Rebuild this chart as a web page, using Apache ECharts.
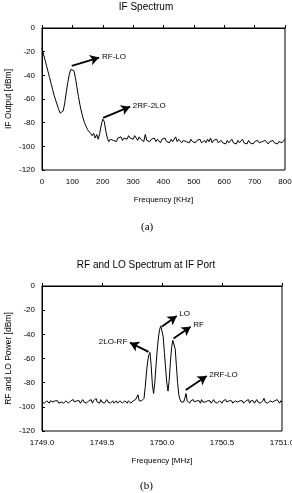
<!DOCTYPE html>
<html>
<head>
<meta charset="utf-8">
<script src="https://cdn.jsdelivr.net/npm/echarts@6/dist/echarts.min.js"></script>
<style>
  html, body { margin: 0; padding: 0; background: #fff; }
  #main { width: 292px; height: 493px; }
</style>
</head>
<body>
<div id="main"></div>
<script>
// (a) IF spectrum, one sample every 5 kHz from 0 to 800 kHz
var ifStart = 0, ifStep = 5;
var ifPower = [
  -17,-22,-27,-32,-37,-42,-47,-52,-57,-61,
  -65,-69,-72,-73,-70,-63,-54,-46,-39,-35,
  -34,-36,-42,-50,-58,-65,-71,-76,-80,-83,
  -86,-87,-89,-91,-89,-93,-90,-94,-89,-82,
  -77,-79,-87,-93,-96,-94,-93,-95,-94,-96,
  -93,-94,-92,-95,-93,-92,-94,-91,-93,-92,
  -94,-91,-93,-95,-92,-94,-93,-96,-90,-95,
  -94,-96,-94,-95,-93,-96,-94,-95,-97,-94,
  -95,-93,-96,-95,-97,-94,-96,-95,-92,-96,
  -94,-95,-97,-95,-94,-96,-95,-97,-94,-96,
  -95,-97,-95,-96,-94,-97,-96,-95,-97,-94,
  -96,-93,-97,-95,-96,-94,-97,-96,-95,-97,
  -96,-98,-95,-97,-96,-94,-97,-96,-98,-95,
  -97,-96,-94,-97,-96,-98,-95,-97,-96,-98,
  -96,-97,-95,-97,-98,-96,-97,-95,-96,-98,
  -96,-97,-95,-97,-96,-98,-96,-95,-97,-96,
  -94
];
// (b) RF and LO at IF port, one sample every 0.01 MHz from 1749 to 1751 MHz
var rfStart = 1749, rfStep = 0.01;
var rfPower = [
  -96,-95,-97,-96,-95,-96,-97,-95,-96,-96,
  -97,-95,-96,-95,-97,-96,-96,-95,-97,-96,
  -95,-96,-97,-96,-95,-96,-94,-96,-97,-95,
  -96,-95,-97,-96,-94,-96,-95,-97,-96,-95,
  -96,-94,-97,-95,-96,-93,-96,-95,-97,-94,
  -96,-95,-97,-96,-94,-96,-95,-97,-96,-95,
  -97,-96,-95,-97,-96,-95,-96,-97,-96,-95,
  -96,-97,-95,-96,-97,-96,-95,-96,-94,-95,
  -90,-95,-96,-95,-94,-93,-84,-72,-63,-57,
  -55,-66,-82,-89,-80,-66,-53,-43,-36,-33,
  -34,-42,-55,-68,-80,-87,-78,-63,-51,-45,
  -44,-52,-66,-80,-90,-94,-96,-95,-96,-93,
  -89,-95,-96,-97,-95,-96,-94,-96,-97,-95,
  -96,-95,-97,-94,-96,-95,-96,-97,-95,-96,
  -95,-97,-96,-94,-96,-95,-97,-96,-95,-96,
  -97,-95,-96,-94,-96,-97,-95,-96,-95,-97,
  -96,-95,-94,-96,-97,-95,-96,-95,-97,-96,
  -95,-96,-94,-97,-95,-96,-95,-97,-96,-94,
  -96,-95,-97,-96,-95,-93,-96,-95,-97,-96,
  -95,-94,-96,-97,-95,-96,-94,-95,-97,-95,
  -96
];
var ifTicks = { min: 0, max: 800, interval: 100 };
var rfTicks = { min: 1749, max: 1751, interval: 0.5 };
var yTicks = { min: -120, max: 0, interval: 20 };

// arrows: [label, start, end] in data units
var ifArrows = [
  ['RF-LO', [98, -32], [188, -25]],
  ['2RF-2LO', [201, -76], [290, -66.5]]
];
var rfArrows = [
  ['LO', [1750.0, -33.5], [1750.123, -24.8]],
  ['RF', [1750.096, -43.5], [1750.239, -33.7]],
  ['2LO-RF', [1749.888, -54.5], [1749.733, -46.9]],
  ['2RF-LO', [1750.198, -86], [1750.373, -74.5]]
];

function pairs(start, step, vals, digits) {
  var out = [];
  for (var i = 0; i < vals.length; i++) {
    out.push([Number((start + i * step).toFixed(digits)), vals[i]]);
  }
  return out;
}

function arrowLines(list) {
  return list.map(function (a) {
    return [{ name: a[0], coord: a[1] }, { coord: a[2] }];
  });
}

var font = 'Liberation Sans, Arial, sans-serif';
var tickLabel = { color: '#000', fontSize: 8, fontFamily: font };
var axisName = { color: '#000', fontSize: 8, fontFamily: font };

function xAxisOf(idx, t, name, fmt) {
  return {
    type: 'value', gridIndex: idx, min: t.min, max: t.max, interval: t.interval,
    name: name, nameLocation: 'middle', nameGap: 26, nameMoveOverlap: false, nameTextStyle: axisName,
    axisLine: { lineStyle: { color: '#000', width: 1 } },
    axisTick: { inside: true, length: 3, lineStyle: { color: '#000' } },
    axisLabel: Object.assign({ margin: 8, formatter: fmt }, tickLabel),
    splitLine: { show: false }
  };
}
function yAxisOf(idx, name) {
  return {
    type: 'value', gridIndex: idx, min: yTicks.min, max: yTicks.max, interval: yTicks.interval,
    name: name, nameLocation: 'middle', nameGap: 29, nameMoveOverlap: false,
    nameTextStyle: Object.assign({}, axisName, { fontSize: 8.5 }),
    axisLine: { show: true, lineStyle: { color: '#000', width: 1 } },
    axisTick: { show: true, inside: true, length: 3, lineStyle: { color: '#000' } },
    axisLabel: Object.assign({ margin: 7 }, tickLabel),
    splitLine: { show: false }
  };
}
function seriesOf(idx, data, arrows) {
  return {
    type: 'line', xAxisIndex: idx, yAxisIndex: idx, data: data,
    showSymbol: false, animation: false,
    lineStyle: { color: '#000', width: 1 },
    markLine: {
      silent: true, animation: false,
      symbol: ['none', 'arrow'], symbolSize: [8, 9],
      lineStyle: { color: '#000', width: 1.8, type: 'solid' },
      label: {
        show: true, position: 'end', distance: 3, formatter: '{b}',
        color: '#000', fontSize: 8, fontFamily: font
      },
      data: arrowLines(arrows)
    }
  };
}

var chart = echarts.init(document.getElementById('main'), null, { renderer: 'canvas' });
chart.setOption({
  backgroundColor: '#fff',
  animation: false,
  title: [
    { text: 'IF Spectrum', left: 'center', top: 2, padding: 0,
      textStyle: { fontSize: 10, fontWeight: 'normal', color: '#000', fontFamily: font } },
    { text: 'RF and LO Spectrum at IF Port', left: 'center', top: 260, padding: 0,
      textStyle: { fontSize: 10, fontWeight: 'normal', color: '#000', fontFamily: font } }
  ],
  grid: [
    { left: 42, top: 28, width: 243, height: 142, outerBoundsMode: 'none', containLabel: false,
      show: true, borderColor: '#000', borderWidth: 1, backgroundColor: 'transparent' },
    { left: 42, top: 286, width: 240, height: 145, outerBoundsMode: 'none', containLabel: false,
      show: true, borderColor: '#000', borderWidth: 1, backgroundColor: 'transparent' }
  ],
  xAxis: [
    xAxisOf(0, ifTicks, 'Frequency [KHz]'),
    xAxisOf(1, rfTicks, 'Frequency [MHz]', function (v) { return v.toFixed(1); })
  ],
  yAxis: [
    yAxisOf(0, 'IF Output [dBm]'),
    yAxisOf(1, 'RF and LO Power [dBm]')
  ],
  series: [
    seriesOf(0, pairs(ifStart, ifStep, ifPower, 0), ifArrows),
    seriesOf(1, pairs(rfStart, rfStep, rfPower, 2), rfArrows)
  ],
  graphic: [
    { type: 'text', left: 141, top: 222,
      style: { text: '(a)', fontSize: 11, fontFamily: 'Liberation Serif, Times New Roman, serif', fill: '#000' } },
    { type: 'text', left: 140, top: 481,
      style: { text: '(b)', fontSize: 11, fontFamily: 'Liberation Serif, Times New Roman, serif', fill: '#000' } }
  ]
});
</script>
</body>
</html>
